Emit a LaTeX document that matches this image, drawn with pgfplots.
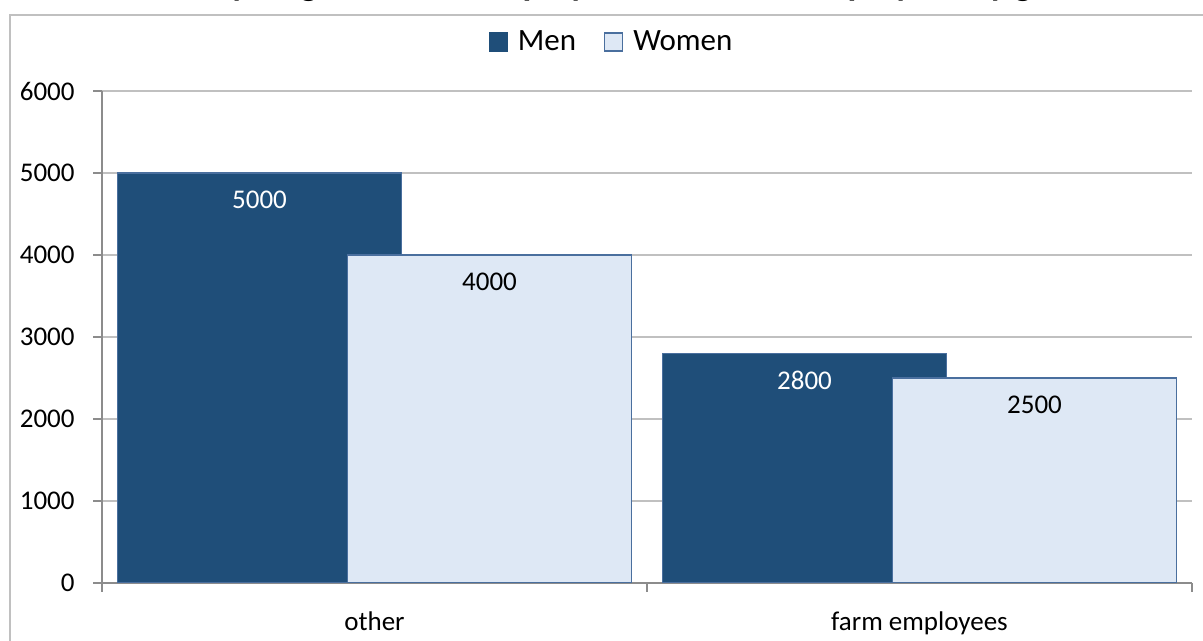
\documentclass[border=0pt]{standalone}
\usepackage{pgfplots}
\pgfplotsset{compat=1.18}
\usepackage{fontspec}
\setmainfont{Carlito}
\definecolor{menblue}{HTML}{1F4E79}
\definecolor{womenblue}{HTML}{DEE8F5}
\definecolor{barborder}{HTML}{4A6F9E}
\definecolor{gridgray}{HTML}{C0C0C0}
\definecolor{axisgray}{HTML}{8C8C8C}
\begin{document}
\begin{tikzpicture}
\begin{axis}[
  at={(51pt,29pt)}, anchor=south west,
  scale only axis, width=545pt, height=246pt,
  ybar,
  xmin=-0.5, xmax=1.5, ymin=0, ymax=6000,
  ytick={0,1000,...,6000},
  xtick={0,1}, xticklabels={other, farm employees},
  minor xtick={-0.5,0.5,1.5},
  major x tick style={draw=none},
  minor x tick style={axisgray, line width=0.6pt},
  y tick style={axisgray, line width=0.6pt},
  tick align=outside, tick pos=left,
  major tick length=4.5pt, minor tick length=4.5pt,
  axis lines*=left,
  axis line style={-, axisgray, line width=0.6pt},
  ymajorgrids, grid style={gridgray, line width=0.6pt},
  /pgf/number format/assume math mode=true,
  /pgf/number format/1000 sep={},
  yticklabel style={font=\fontsize{13.5}{16}\selectfont, anchor=east, inner sep=0pt, xshift=-9pt},
  xticklabel style={font=\fontsize{13.5}{16}\selectfont, anchor=north, inner sep=0pt, yshift=-9.5pt},
  legend columns=2,
  legend style={draw=none, fill=none, at={(0.4684,1.0996)}, anchor=center,
    font=\fontsize{15.5}{18}\selectfont,
    /tikz/every even column/.append style={column sep=12pt},
    /tikz/every odd column/.append style={column sep=3pt}},
  nodes near coords,
  every node near coord/.append style={font=\fontsize{13.5}{16}\selectfont, anchor=center, yshift=-13.5pt},
]
\addplot[fill=menblue, draw=barborder, line width=0.6pt, bar width=0.521, bar shift=-0.211,
  nodes near coords style={text=white},
  legend image code/.code={\draw[fill=menblue, draw=menblue] (1.5pt,-4.5pt) rectangle (10.5pt,4.5pt);}]
  coordinates {(0,5000) (1,2800)};
\addlegendentry{Men}
\addplot[fill=womenblue, draw=barborder, line width=0.6pt, bar width=0.521, bar shift=0.211,
  nodes near coords style={text=black},
  legend image code/.code={\draw[fill=womenblue, draw=barborder, line width=0.6pt] (0pt,-4.5pt) rectangle (9pt,4.5pt);}]
  coordinates {(0,4000) (1,2500)};
\addlegendentry{Women}
\end{axis}
\draw[gridgray, line width=0.75pt] (5pt,-10pt) -- (5pt,313pt) -- (620pt,313pt);
\node[anchor=base east, inner sep=0pt, font=\bfseries\fontsize{18}{21}\selectfont] at (563pt,322.8pt)
  {Comparison of monthly wages of farm employees and other employees by gender,};
\pgfresetboundingbox
\useasboundingbox (0,0) rectangle (601.5pt,320.5pt);
\end{tikzpicture}
\end{document}
